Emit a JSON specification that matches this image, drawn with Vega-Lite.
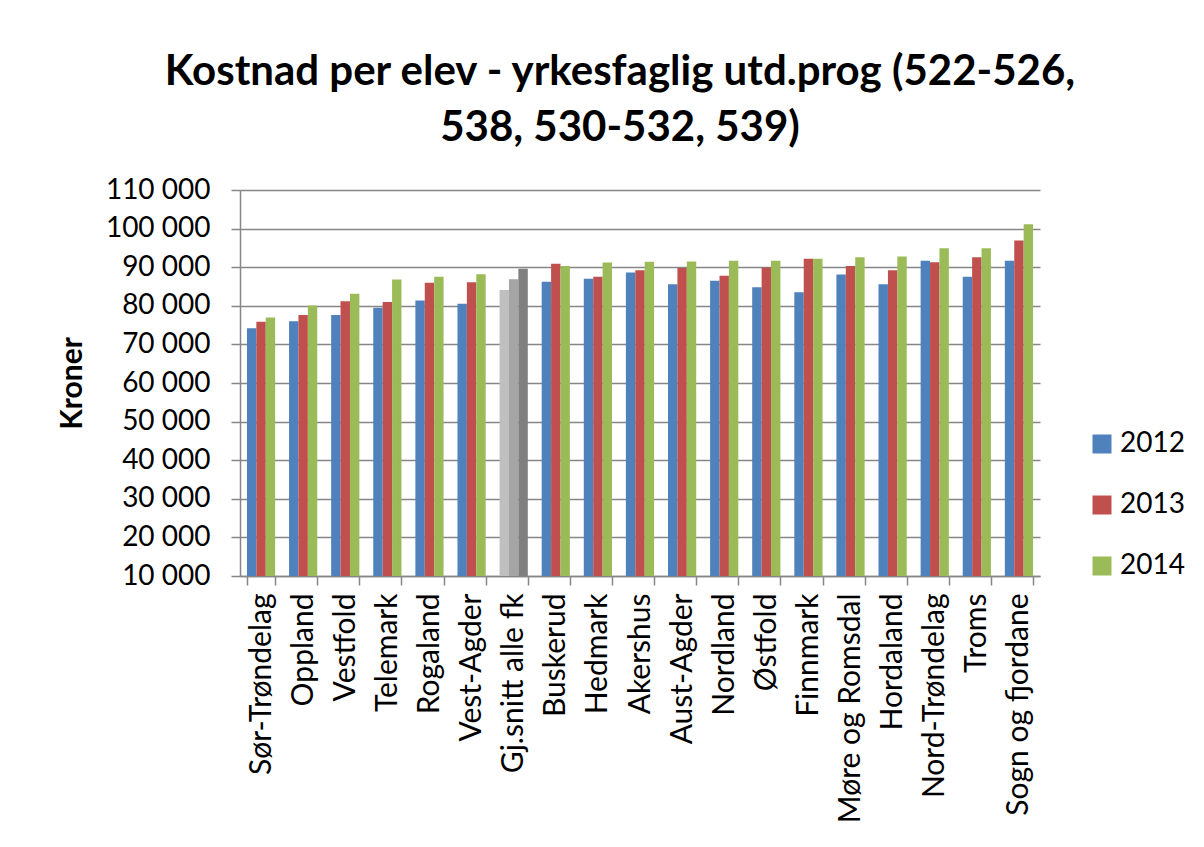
{
  "$schema": "https://vega.github.io/schema/vega-lite/v6.json",
  "width": 800,
  "height": 386,
  "autosize": "none",
  "padding": {"left": 240, "top": 190, "right": 164, "bottom": 271},
  "background": "white",
  "title": {
    "text": ["Kostnad per elev - yrkesfaglig utd.prog (522-526,", "538, 530-532, 539)"],
    "font": "Lato",
    "fontSize": 42,
    "fontWeight": "bold",
    "color": "#000000",
    "lineHeight": 56,
    "anchor": "middle",
    "dx": -20,
    "offset": 26
  },
  "config": {
    "view": {"stroke": null},
    "font": "Lato"
  },
  "data": {
    "values": [
      {"region": "Sør-Trøndelag", "year": "2012", "key": "2012", "value": 74200},
      {"region": "Sør-Trøndelag", "year": "2013", "key": "2013", "value": 75900},
      {"region": "Sør-Trøndelag", "year": "2014", "key": "2014", "value": 77000},
      {"region": "Oppland", "year": "2012", "key": "2012", "value": 76000},
      {"region": "Oppland", "year": "2013", "key": "2013", "value": 77600},
      {"region": "Oppland", "year": "2014", "key": "2014", "value": 80100},
      {"region": "Vestfold", "year": "2012", "key": "2012", "value": 77600},
      {"region": "Vestfold", "year": "2013", "key": "2013", "value": 81200},
      {"region": "Vestfold", "year": "2014", "key": "2014", "value": 83100},
      {"region": "Telemark", "year": "2012", "key": "2012", "value": 79500},
      {"region": "Telemark", "year": "2013", "key": "2013", "value": 81000},
      {"region": "Telemark", "year": "2014", "key": "2014", "value": 86800},
      {"region": "Rogaland", "year": "2012", "key": "2012", "value": 81400},
      {"region": "Rogaland", "year": "2013", "key": "2013", "value": 86000},
      {"region": "Rogaland", "year": "2014", "key": "2014", "value": 87500},
      {"region": "Vest-Agder", "year": "2012", "key": "2012", "value": 80500},
      {"region": "Vest-Agder", "year": "2013", "key": "2013", "value": 86100},
      {"region": "Vest-Agder", "year": "2014", "key": "2014", "value": 88200},
      {"region": "Gj.snitt alle fk", "year": "2012", "key": "snitt 2012", "value": 84100},
      {"region": "Gj.snitt alle fk", "year": "2013", "key": "snitt 2013", "value": 86900},
      {"region": "Gj.snitt alle fk", "year": "2014", "key": "snitt 2014", "value": 89600},
      {"region": "Buskerud", "year": "2012", "key": "2012", "value": 86200},
      {"region": "Buskerud", "year": "2013", "key": "2013", "value": 90900},
      {"region": "Buskerud", "year": "2014", "key": "2014", "value": 90300},
      {"region": "Hedmark", "year": "2012", "key": "2012", "value": 87000},
      {"region": "Hedmark", "year": "2013", "key": "2013", "value": 87500},
      {"region": "Hedmark", "year": "2014", "key": "2014", "value": 91200},
      {"region": "Akershus", "year": "2012", "key": "2012", "value": 88600},
      {"region": "Akershus", "year": "2013", "key": "2013", "value": 89200},
      {"region": "Akershus", "year": "2014", "key": "2014", "value": 91400},
      {"region": "Aust-Agder", "year": "2012", "key": "2012", "value": 85600},
      {"region": "Aust-Agder", "year": "2013", "key": "2013", "value": 89800},
      {"region": "Aust-Agder", "year": "2014", "key": "2014", "value": 91500},
      {"region": "Nordland", "year": "2012", "key": "2012", "value": 86500},
      {"region": "Nordland", "year": "2013", "key": "2013", "value": 87800},
      {"region": "Nordland", "year": "2014", "key": "2014", "value": 91700},
      {"region": "Østfold", "year": "2012", "key": "2012", "value": 84800},
      {"region": "Østfold", "year": "2013", "key": "2013", "value": 89900},
      {"region": "Østfold", "year": "2014", "key": "2014", "value": 91700},
      {"region": "Finnmark", "year": "2012", "key": "2012", "value": 83500},
      {"region": "Finnmark", "year": "2013", "key": "2013", "value": 92200},
      {"region": "Finnmark", "year": "2014", "key": "2014", "value": 92200},
      {"region": "Møre og Romsdal", "year": "2012", "key": "2012", "value": 88100},
      {"region": "Møre og Romsdal", "year": "2013", "key": "2013", "value": 90300},
      {"region": "Møre og Romsdal", "year": "2014", "key": "2014", "value": 92600},
      {"region": "Hordaland", "year": "2012", "key": "2012", "value": 85600},
      {"region": "Hordaland", "year": "2013", "key": "2013", "value": 89200},
      {"region": "Hordaland", "year": "2014", "key": "2014", "value": 92800},
      {"region": "Nord-Trøndelag", "year": "2012", "key": "2012", "value": 91700},
      {"region": "Nord-Trøndelag", "year": "2013", "key": "2013", "value": 91300},
      {"region": "Nord-Trøndelag", "year": "2014", "key": "2014", "value": 94900},
      {"region": "Troms", "year": "2012", "key": "2012", "value": 87500},
      {"region": "Troms", "year": "2013", "key": "2013", "value": 92600},
      {"region": "Troms", "year": "2014", "key": "2014", "value": 94900},
      {"region": "Sogn og fjordane", "year": "2012", "key": "2012", "value": 91700},
      {"region": "Sogn og fjordane", "year": "2013", "key": "2013", "value": 96900},
      {"region": "Sogn og fjordane", "year": "2014", "key": "2014", "value": 101100}
    ]
  },
  "mark": {"type": "bar", "clip": true},
  "encoding": {
    "x": {
      "field": "region",
      "type": "nominal",
      "sort": null,
      "scale": {"paddingInner": 0.33, "paddingOuter": 0.165},
      "axis": {
        "title": null,
        "labelAngle": -90,
        "labelFont": "Lato",
        "labelFontSize": 30,
        "labelColor": "#000000",
        "labelPadding": 8,
        "labelLimit": 0,
        "domainColor": "#868686",
        "domainWidth": 1.5,
        "tickColor": "#868686",
        "tickWidth": 1.5,
        "tickSize": 9,
        "tickBand": "extent"
      }
    },
    "xOffset": {"field": "year", "type": "nominal", "scale": {"paddingInner": 0, "paddingOuter": 0}},
    "y": {
      "field": "value",
      "type": "quantitative",
      "scale": {"domain": [10000, 110000], "nice": false, "zero": false},
      "axis": {
        "title": "Kroner",
        "titleFont": "Lato",
        "titleFontSize": 30,
        "titleFontWeight": "bold",
        "titleColor": "#000000",
        "titlePadding": 18,
        "values": [10000, 20000, 30000, 40000, 50000, 60000, 70000, 80000, 90000, 100000, 110000],
        "labelExpr": "replace(format(datum.value, ','), ',', ' ')",
        "labelFont": "Lato",
        "labelFontSize": 28,
        "labelColor": "#000000",
        "labelPadding": 21,
        "domainColor": "#868686",
        "domainWidth": 1.5,
        "tickColor": "#868686",
        "tickWidth": 1.5,
        "tickSize": 9,
        "grid": true,
        "gridColor": "#868686",
        "gridWidth": 1.5
      }
    },
    "color": {
      "field": "key",
      "type": "nominal",
      "scale": {
        "domain": ["2012", "2013", "2014", "snitt 2012", "snitt 2013", "snitt 2014"],
        "range": ["#4F81BD", "#C0504D", "#9BBB59", "#BFBFBF", "#A5A5A5", "#7F7F7F"]
      },
      "legend": {
        "title": null,
        "values": ["2012", "2013", "2014"],
        "orient": "none",
        "legendX": 848,
        "legendY": 240,
        "symbolType": "square",
        "symbolSize": 361,
        "symbolStrokeWidth": 0,
        "labelFont": "Lato",
        "labelFontSize": 28,
        "labelColor": "#000000",
        "labelOffset": 4,
        "rowPadding": 33
      }
    }
  }
}
